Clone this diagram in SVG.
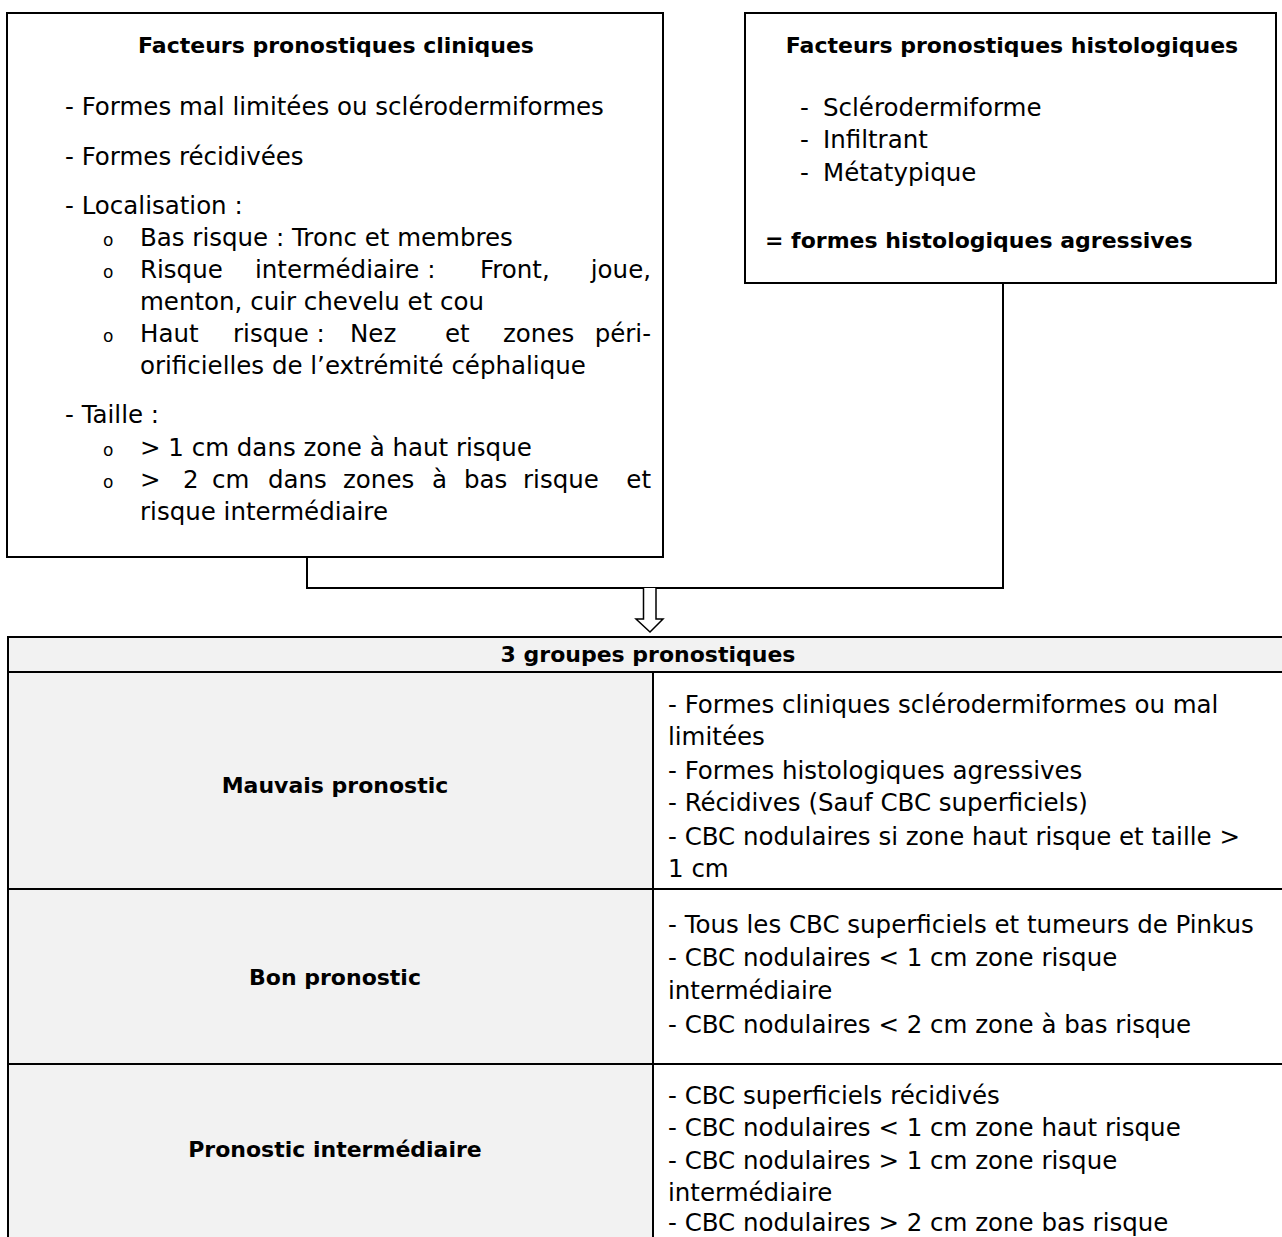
<svg xmlns="http://www.w3.org/2000/svg" width="1282" height="1237" viewBox="0 0 1282 1237">
<style>
text{font-family:"DejaVu Sans","Liberation Sans",sans-serif;font-size:24.5px;fill:#000}
.b{font-weight:bold;font-size:22px}
.c{text-anchor:middle}
.e{text-anchor:end}
.bul{font-size:17px}
.box{fill:#fff;stroke:#000;stroke-width:2}
.gray{fill:#f2f2f2}
.ln{stroke:#000;stroke-width:2;fill:none}
</style>
<rect width="1282" height="1237" fill="#fff"/>
<g id="clinique">
<rect class="box" x="7" y="13" width="656" height="544"/>
<text class="b c" x="336" y="53">Facteurs pronostiques cliniques</text>
<text x="65" y="115">- Formes mal limitées ou sclérodermiformes</text>
<text x="65" y="165">- Formes récidivées</text>
<text x="65" y="214">- Localisation :</text>
<text class="bul" x="103" y="246">o</text>
<text x="140" y="246">Bas risque : Tronc et membres</text>
<text class="bul" x="103" y="278">o</text>
<text x="140" y="278">Risque</text><text x="255" y="278">intermédiaire :</text><text x="480" y="278">Front,</text><text class="e" x="651" y="278">joue,</text>
<text x="140" y="310">menton, cuir chevelu et cou</text>
<text class="bul" x="103" y="342">o</text>
<text x="140" y="342">Haut</text><text x="233" y="342">risque :</text><text x="350" y="342">Nez</text><text x="445" y="342">et</text><text x="503" y="342">zones</text><text class="e" x="651" y="342">péri-</text>
<text x="140" y="374">orificielles de l’extrémité céphalique</text>
<text x="65" y="423">- Taille :</text>
<text class="bul" x="103" y="456">o</text>
<text x="140" y="456">&gt; 1 cm dans zone à haut risque</text>
<text class="bul" x="103" y="488">o</text>
<text x="140" y="488">&gt;</text><text x="183" y="488">2</text><text x="212" y="488">cm</text><text x="268" y="488">dans</text><text x="343" y="488">zones</text><text x="432" y="488">à</text><text x="464" y="488">bas</text><text x="523" y="488">risque</text><text class="e" x="651" y="488">et</text>
<text x="140" y="520">risque intermédiaire</text>
</g>
<g id="histologique">
<rect class="box" x="745" y="13" width="531" height="270"/>
<text class="b c" x="1012" y="53">Facteurs pronostiques histologiques</text>
<text x="800" y="116">-</text><text x="823" y="116">Sclérodermiforme</text>
<text x="800" y="148">-</text><text x="823" y="148">Infiltrant</text>
<text x="800" y="181">-</text><text x="823" y="181">Métatypique</text>
<text class="b" x="765" y="248">= formes histologiques agressives</text>
</g>
<g id="connecteurs">
<polyline class="ln" points="307,557 307,588 1003,588 1003,283"/>
<path d="M643.5,588 V619 H636 L650,632 L663,619 H656 V588" fill="#fff" stroke="#000" stroke-width="1.5"/>
</g>
<g id="tableau">
<rect class="gray" x="7" y="637" width="1280" height="35"/>
<rect class="gray" x="7" y="672" width="646" height="570"/>
<text class="b c" x="648" y="662">3 groupes pronostiques</text>
<path class="ln" d="M7,637 H1290 M7,672 H1290 M7,889 H1290 M7,1064 H1290 M8,637 V1240 M653,672 V1240"/>
<g id="mauvais">
<text class="b c" x="335" y="793">Mauvais pronostic</text>
<text x="668" y="713">- Formes cliniques sclérodermiformes ou mal</text>
<text x="668" y="745">limitées</text>
<text x="668" y="779">- Formes histologiques agressives</text>
<text x="668" y="811">- Récidives (Sauf CBC superficiels)</text>
<text x="668" y="845">- CBC nodulaires si zone haut risque et taille &gt;</text>
<text x="668" y="877">1 cm</text>
</g>
<g id="bon">
<text class="b c" x="335" y="985">Bon pronostic</text>
<text x="668" y="933">- Tous les CBC superficiels et tumeurs de Pinkus</text>
<text x="668" y="966">- CBC nodulaires &lt; 1 cm zone risque</text>
<text x="668" y="999">intermédiaire</text>
<text x="668" y="1033">- CBC nodulaires &lt; 2 cm zone à bas risque</text>
</g>
<g id="intermediaire">
<text class="b c" x="335" y="1157">Pronostic intermédiaire</text>
<text x="668" y="1104">- CBC superficiels récidivés</text>
<text x="668" y="1136">- CBC nodulaires &lt; 1 cm zone haut risque</text>
<text x="668" y="1169">- CBC nodulaires &gt; 1 cm zone risque</text>
<text x="668" y="1201">intermédiaire</text>
<text x="668" y="1231">- CBC nodulaires &gt; 2 cm zone bas risque</text>
</g>
</g>
</svg>
